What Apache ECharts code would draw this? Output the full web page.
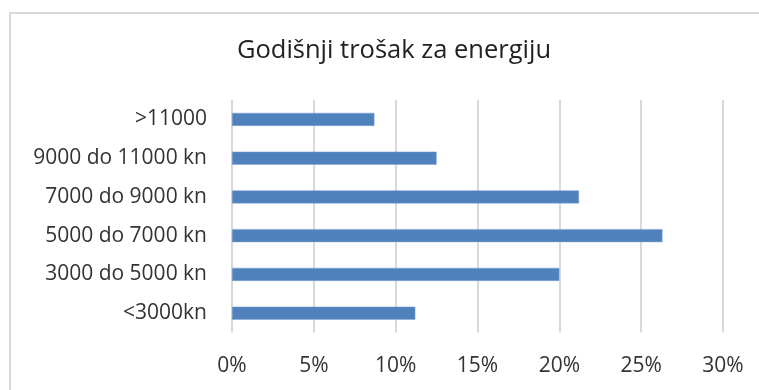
<!DOCTYPE html>
<html>
<head>
<meta charset="utf-8">
<script src="https://cdn.jsdelivr.net/npm/echarts@6/dist/echarts.min.js"></script>
<style>
  html, body { margin: 0; padding: 0; background: #ffffff; }
  #chart { width: 759px; height: 390px; }
</style>
</head>
<body>
<div id="chart"></div>
<script>
// Share of households by yearly energy cost bracket (percent)
const chartTitle = 'Godišnji trošak za energiju';
const categories = ['<3000kn', '3000 do 5000 kn', '5000 do 7000 kn', '7000 do 9000 kn', '9000 do 11000 kn', '>11000'];
const shares = [11.2, 20.0, 26.3, 21.2, 12.5, 8.7];
const axisMin = 0;
const axisMax = 30;
const axisStep = 5;

const FONT = '"Open Sans", "Liberation Sans", sans-serif';
const TEXT = '#333333';
const GRID = '#d9d9d9';

const chart = echarts.init(document.getElementById('chart'), null, { renderer: 'canvas' });

chart.setOption({
  backgroundColor: '#ffffff',
  animation: false,
  graphic: [{
    type: 'rect',
    shape: { x: 10, y: 13, width: 800, height: 420 },
    style: { fill: 'none', stroke: GRID, lineWidth: 2 },
    silent: true,
    z: -1
  }],
  title: {
    text: chartTitle,
    left: 389,
    top: 33,
    textAlign: 'center',
    textStyle: { fontFamily: FONT, fontSize: 25.5, fontWeight: 'normal', color: '#222222' }
  },
  grid: { left: 232, right: 36, top: 100, bottom: 57.5, containLabel: false },
  xAxis: {
    type: 'value',
    min: axisMin,
    max: axisMax,
    interval: axisStep,
    axisLine: { show: false },
    axisTick: { show: false },
    splitLine: { show: true, lineStyle: { color: GRID, width: 2 } },
    axisLabel: {
      formatter: '{value}%',
      margin: 23,
      fontFamily: FONT,
      fontSize: 21,
      color: TEXT
    }
  },
  yAxis: {
    type: 'category',
    data: categories,
    axisLine: { show: false },
    axisTick: { show: false },
    splitLine: { show: false },
    axisLabel: {
      margin: 25,
      fontFamily: FONT,
      fontSize: 21,
      color: TEXT
    }
  },
  series: [{
    type: 'bar',
    data: shares,
    barWidth: 13,
    itemStyle: { color: '#4f81bd', borderColor: '#7fa3d0', borderWidth: 0.5 },
    z: 3
  }]
});
</script>
</body>
</html>
